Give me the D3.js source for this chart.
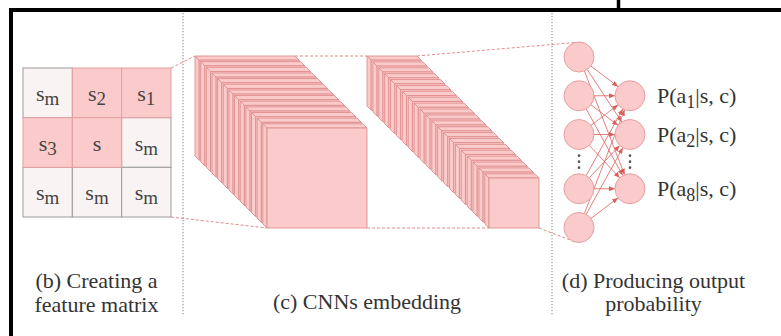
<!DOCTYPE html>
<html>
<head>
<meta charset="utf-8">
<script src="https://cdn.jsdelivr.net/npm/d3@7"></script>
<style>
  html, body { margin: 0; padding: 0; background: #fff; }
  svg { display: block; }
</style>
</head>
<body>
<svg id="fig" width="781" height="336"></svg>
<script>
// ---- data ----------------------------------------------------------------
// 3x3 feature matrix around the current state s
const matrixBase   = [["s", "s", "s"], ["s", "s", "s"], ["s", "s", "s"]];
const matrixSub    = [["m", "2", "1"], ["3", "", "m"], ["m", "m", "m"]];
const matrixActive = [[0, 1, 1], [1, 1, 0], [0, 0, 0]];

// number of feature maps in each convolutional block
const layerCounts = [13, 21];

// fully connected output stage
const inputNodes  = ["h1", "h2", "h3", "hn-1", "hn"];
const outputSubs  = ["1", "2", "8"];

// panel captions
const captionB = ["(b) Creating a", "feature matrix"];
const captionC = ["(c) CNNs embedding"];
const captionD = ["(d) Producing output", "probability"];

// ---- styles --------------------------------------------------------------
const serif = "Liberation Serif";
const pinkFill = "#fbcaca", pinkStroke = "#df8e8e";
const lightFill = "#faf3f3", lightStroke = "#9c9c9c";
const textCol = "#333333";
const edgeCol = "#d9615d";
const connCol = "#e58b8b";

const svg = d3.select("#fig");

// ---- frame & panel separators -------------------------------------------
const frame = svg.append("g").attr("stroke", "#000");
frame.append("line").attr("x1", 9).attr("y1", 10).attr("x2", 781).attr("y2", 10).attr("stroke-width", 4);
frame.append("line").attr("x1", 11).attr("y1", 8).attr("x2", 11).attr("y2", 336).attr("stroke-width", 4);
frame.append("line").attr("x1", 618.5).attr("y1", 0).attr("x2", 618.5).attr("y2", 10).attr("stroke-width", 3.5);

svg.append("g").selectAll("line").data([183, 552]).join("line")
  .attr("x1", d => d).attr("x2", d => d).attr("y1", 13).attr("y2", 316)
  .attr("stroke", "#9a9a9a").attr("stroke-width", 1.2).attr("stroke-dasharray", "1.3,1.7");

// ---- (b) feature matrix --------------------------------------------------
const col = d3.scaleBand().domain(d3.range(3)).range([23, 171]);
const row = d3.scaleBand().domain(d3.range(3)).range([68, 217]);

const cells = [];
matrixBase.forEach((r, i) => r.forEach((b, j) =>
  cells.push({ i, j, base: b, sub: matrixSub[i][j], on: matrixActive[i][j] })));

const gm = svg.append("g");
gm.selectAll("rect")
  .data(cells.slice().sort((a, b) => a.on - b.on))
  .join("rect")
  .attr("x", d => col(d.j)).attr("y", d => row(d.i))
  .attr("width", col.bandwidth()).attr("height", row.bandwidth())
  .attr("fill", d => d.on ? pinkFill : lightFill)
  .attr("stroke", d => d.on ? "#e3a0a0" : lightStroke)
  .attr("stroke-width", 1);

const cellText = gm.selectAll("text.cell").data(cells).join("text")
  .attr("class", "cell")
  .attr("x", d => col(d.j) + col.bandwidth() / 2)
  .attr("y", d => row(d.i) + row.bandwidth() / 2 + 8)
  .attr("text-anchor", "middle").attr("font-family", serif)
  .attr("font-size", 22).attr("fill", "#444");
cellText.append("tspan").attr("font-family", serif).text(d => d.base);
cellText.filter(d => d.sub).append("tspan").attr("font-family", serif)
  .attr("dy", 4).attr("font-size", 19).text(d => d.sub);

// ---- (c) convolutional stacks -------------------------------------------
const stackLayout = [
  { x0: 195, y0: 56, w: 100 },
  { x0: 367, y0: 56, w: 50 }
];
const frontBottom = 228;
const depth = 4.2;

const stacks = layerCounts.map((n, k) => {
  const L = stackLayout[k];
  const D = frontBottom - L.w - L.y0;
  const off = d3.scaleLinear().domain([0, n - 1]).range([depth, D]);
  return { n, L, D, off };
});

stacks.forEach(s => {
  const g = svg.append("g")
    .attr("fill", pinkFill).attr("stroke", pinkStroke)
    .attr("stroke-width", 0.9).attr("stroke-linejoin", "round");
  d3.range(s.n).forEach(i => {
    const fx = s.L.x0 + s.off(i), fy = s.L.y0 + s.off(i), w = s.L.w, d = depth;
    g.append("polygon").attr("points",
      [[fx, fy], [fx + w, fy], [fx + w - d, fy - d], [fx - d, fy - d]].join(" "));
    g.append("polygon").attr("points",
      [[fx, fy], [fx - d, fy - d], [fx - d, fy + w - d], [fx, fy + w]].join(" "));
    g.append("rect").attr("x", fx).attr("y", fy).attr("width", w).attr("height", w);
  });
});

// ---- (d) output network --------------------------------------------------
const leftX = 579, rightX = 630, rad = 15;
const ySlot = d3.scaleLinear().domain([0, 4.4]).range([57, 227.5]);
const inputSlots = [0, 1, 2, 3.4, 4.4];
const outputSlots = [1, 2, 3.4];
const dotsSlot = 2.7;

const inNodes = inputNodes.map((id, k) => ({ id, x: leftX, y: ySlot(inputSlots[k]) }));
const outNodes = outputSubs.map((s, k) => ({ sub: s, x: rightX, y: ySlot(outputSlots[k]) }));

// dashed connectors between panels
const connectors = [
  [[171, 68], [stacks[0].L.x0, stacks[0].L.y0]],
  [[171, 217], [stacks[0].L.x0 + stacks[0].D, frontBottom]],
  [[stacks[0].L.x0 + stacks[0].L.w, stacks[0].L.y0], [stacks[1].L.x0, stacks[1].L.y0]],
  [[stacks[0].L.x0 + stacks[0].D + stacks[0].L.w, frontBottom], [stacks[1].L.x0 + stacks[1].D, frontBottom]],
  [[stacks[1].L.x0 + stacks[1].L.w, stacks[1].L.y0], [inNodes[0].x - 4, inNodes[0].y - rad + 0.5]],
  [[stacks[1].L.x0 + stacks[1].D + stacks[1].L.w, frontBottom], [inNodes[4].x - 4, inNodes[4].y + rad - 0.5]]
];
svg.append("g").selectAll("line").data(connectors).join("line")
  .attr("x1", d => d[0][0]).attr("y1", d => d[0][1])
  .attr("x2", d => d[1][0]).attr("y2", d => d[1][1])
  .attr("stroke", connCol).attr("stroke-width", 1).attr("stroke-dasharray", "3,2");

svg.append("defs").append("marker")
  .attr("id", "arr").attr("markerUnits", "userSpaceOnUse")
  .attr("markerWidth", 6).attr("markerHeight", 6)
  .attr("refX", 6).attr("refY", 3).attr("orient", "auto")
  .append("path").attr("d", "M0,0.5 L6,3 L0,5.5 z").attr("fill", edgeCol);

const edges = [];
inNodes.forEach(a => outNodes.forEach(b => {
  const dx = b.x - a.x, dy = b.y - a.y, len = Math.hypot(dx, dy);
  const ux = dx / len, uy = dy / len;
  edges.push({ x1: a.x + ux * rad, y1: a.y + uy * rad, x2: b.x - ux * rad, y2: b.y - uy * rad });
}));
svg.append("g").selectAll("line").data(edges).join("line")
  .attr("x1", d => d.x1).attr("y1", d => d.y1).attr("x2", d => d.x2).attr("y2", d => d.y2)
  .attr("stroke", edgeCol).attr("stroke-width", 0.8).attr("marker-end", "url(#arr)");

const gn = svg.append("g").attr("fill", pinkFill).attr("stroke", "#e6a0a0").attr("stroke-width", 1);
gn.selectAll("circle.in").data(inNodes).join("circle").attr("class", "in")
  .attr("cx", d => d.x).attr("cy", d => d.y).attr("r", rad);
gn.selectAll("circle.out").data(outNodes).join("circle").attr("class", "out")
  .attr("cx", d => d.x).attr("cy", d => d.y).attr("r", rad);

// vertical ellipses
const dotY = ySlot(dotsSlot);
svg.append("g").selectAll("circle")
  .data([leftX, rightX].flatMap(x => [-6, 0, 6].map(o => ({ x, y: dotY + o }))))
  .join("circle").attr("cx", d => d.x).attr("cy", d => d.y).attr("r", 1.3).attr("fill", "#555");

// output probability labels
const lab = svg.append("g").selectAll("text").data(outNodes).join("text")
  .attr("x", 657).attr("y", d => d.y + 7).attr("font-family", serif)
  .attr("font-size", 22).attr("fill", textCol);
lab.append("tspan").attr("font-family", serif).text("P(a");
lab.append("tspan").attr("font-family", serif).attr("dy", 5).attr("font-size", 18).text(d => d.sub);
lab.append("tspan").attr("font-family", serif).attr("dy", -5).text("|s, c)");

// ---- captions ------------------------------------------------------------
function caption(lines, cx, y0, lh) {
  svg.append("g").selectAll("text").data(lines).join("text")
    .attr("x", cx).attr("y", (d, i) => y0 + i * lh)
    .attr("text-anchor", "middle").attr("font-family", serif)
    .attr("font-size", 22).attr("fill", textCol)
    .text(d => d);
}
caption(captionB, 96.5, 288, 24);
caption(captionC, 367, 309, 24);
caption(captionD, 653.5, 288, 23);
</script>
</body>
</html>
